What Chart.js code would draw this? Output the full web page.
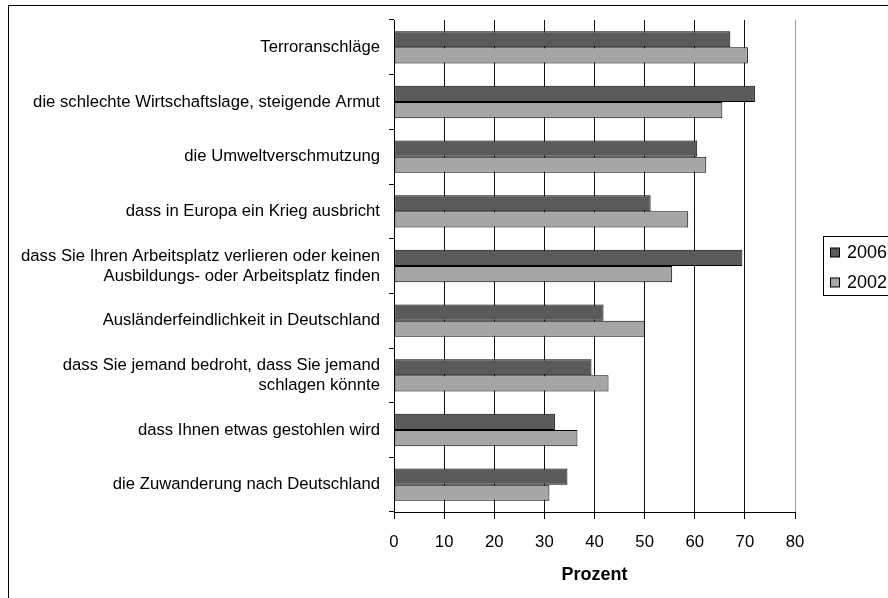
<!DOCTYPE html>
<html>
<head>
<meta charset="utf-8">
<script src="https://cdn.jsdelivr.net/npm/chart.js@4/dist/chart.umd.min.js"></script>
<style>
  html, body { margin: 0; padding: 0; background: #fff; overflow: hidden; }
  #wrap { position: relative; width: 888px; height: 598px; overflow: hidden; }
  canvas { position: absolute; left: 0; top: 0; }
</style>
</head>
<body>
<div id="wrap"><canvas id="c" width="920" height="598"></canvas></div>
<script>
// Worries, in percent of respondents
const categories = [
  'Terroranschläge',
  'die schlechte Wirtschaftslage, steigende Armut',
  'die Umweltverschmutzung',
  'dass in Europa ein Krieg ausbricht',
  ['dass Sie Ihren Arbeitsplatz verlieren oder keinen', 'Ausbildungs- oder Arbeitsplatz finden'],
  'Ausländerfeindlichkeit in Deutschland',
  ['dass Sie jemand bedroht, dass Sie jemand', 'schlagen könnte'],
  'dass Ihnen etwas gestohlen wird',
  'die Zuwanderung nach Deutschland'
];
const values2006 = [67.1, 72.0, 60.5, 51.2, 69.5, 41.8, 39.4, 32.1, 34.6];
const values2002 = [70.6, 65.5, 62.3, 58.7, 55.5, 50.0, 42.8, 36.6, 31.0];
const seriesLabels = ['2006', '2002'];
const xTicks = { min: 0, max: 80, step: 10 };
const axisTitle = 'Prozent';

const FONT = "'Liberation Sans', Arial, sans-serif";
const colors = ['#5a5a5a', '#a6a6a6'];

// Outer frame and the legend box on the right
const framePlugin = {
  id: 'frameAndLegend',
  afterDraw(chart) {
    const ctx = chart.ctx;
    ctx.save();
    ctx.strokeStyle = '#000';
    ctx.lineWidth = 1;
    ctx.strokeRect(8.5, 5.5, 2000, 2000);

    const bx = 823.5, by = 236.5, bw = 100, bh = 59;
    ctx.fillStyle = '#fff';
    ctx.fillRect(bx, by, bw, bh);
    ctx.strokeRect(bx, by, bw, bh);
    ctx.font = '18px ' + FONT;
    ctx.textBaseline = 'middle';
    ctx.textAlign = 'left';
    const rows = [252.5, 282.5];
    seriesLabels.forEach((lab, i) => {
      ctx.fillStyle = colors[i];
      ctx.fillRect(830.5, rows[i] - 4.5, 9, 9);
      ctx.strokeStyle = '#000';
      ctx.strokeRect(830.5, rows[i] - 4.5, 9, 9);
      ctx.fillStyle = '#000';
      ctx.fillText(lab, 847, rows[i] + 1);
    });
    ctx.restore();
  }
};

new Chart(document.getElementById('c'), {
  type: 'bar',
  data: {
    labels: categories,
    datasets: [
      { label: seriesLabels[0], data: values2006, backgroundColor: colors[0], borderColor: '#000', borderWidth: 1, borderSkipped: false },
      { label: seriesLabels[1], data: values2002, backgroundColor: colors[1], borderColor: '#000', borderWidth: 1, borderSkipped: false }
    ]
  },
  options: {
    indexAxis: 'y',
    responsive: false,
    animation: false,
    devicePixelRatio: 1,
    categoryPercentage: 0.59,
    barPercentage: 1.0,
    layout: { padding: { left: 0, top: 20, right: 125, bottom: 0 } },
    plugins: { legend: { display: false }, tooltip: { enabled: false } },
    scales: {
      x: {
        min: xTicks.min, max: xTicks.max,
        afterFit(scale) { scale.height = 86; },
        ticks: { stepSize: xTicks.step, color: '#000', font: { family: FONT, size: 16.7 }, padding: 13, maxRotation: 0 },
        grid: {
          color: (c) => (c.tick && c.tick.value === xTicks.max) ? '#999' : '#111',
          tickColor: '#000',
          tickLength: 7,
          lineWidth: 1
        },
        border: { display: true, color: '#000', width: 1 },
        title: { display: true, text: axisTitle, color: '#000', font: { family: FONT, size: 18, weight: 'bold' }, padding: { top: 4, bottom: 12 } }
      },
      y: {
        afterFit(scale) { scale.width = 394; },
        ticks: { color: '#000', font: { family: FONT, size: 16.7, lineHeight: 1.2 }, padding: 9, autoSkip: false },
        grid: { drawOnChartArea: false, drawTicks: true, tickLength: 5, tickColor: '#000', offset: true },
        border: { display: true, color: '#000', width: 1 }
      }
    }
  },
  plugins: [framePlugin]
});
</script>
</body>
</html>
